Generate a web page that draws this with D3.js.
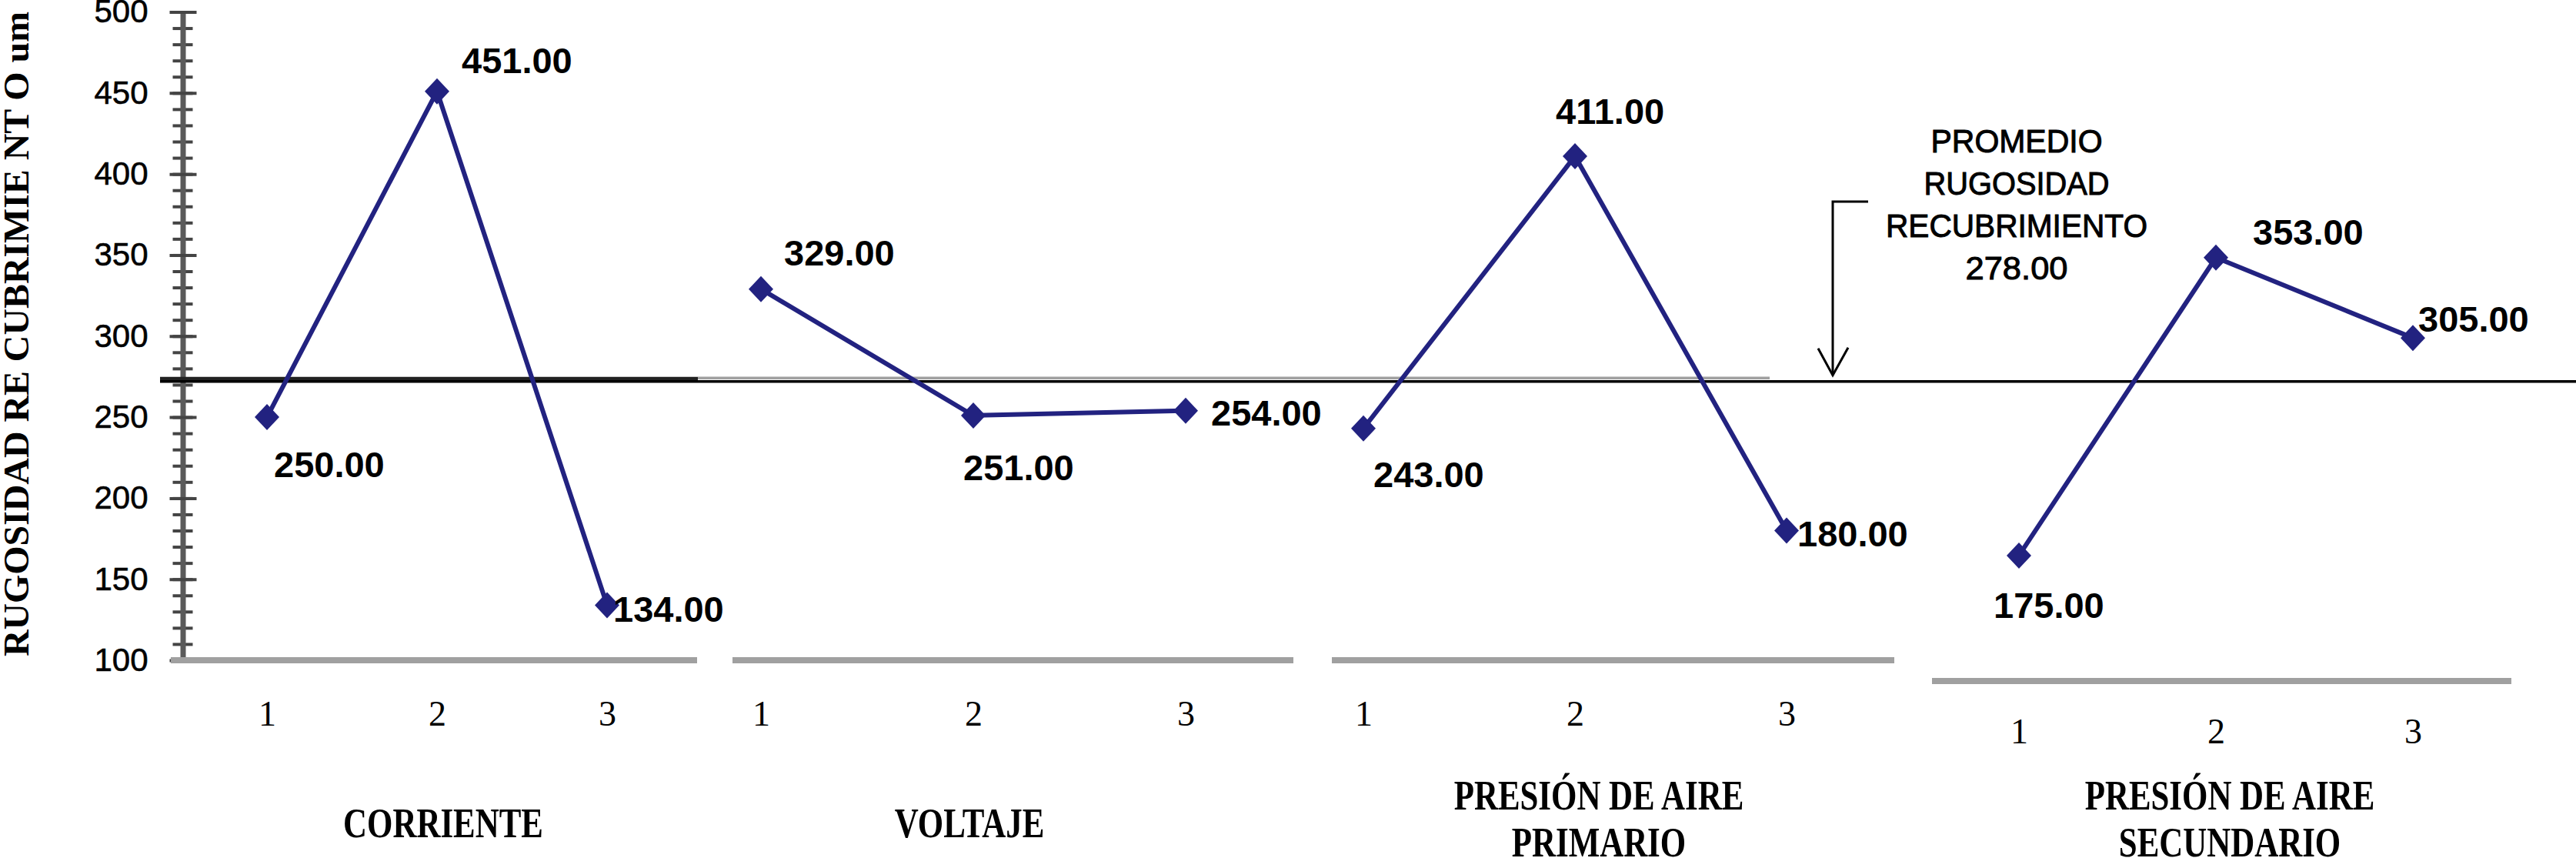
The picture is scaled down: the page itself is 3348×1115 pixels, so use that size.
<!DOCTYPE html>
<html><head><meta charset="utf-8">
<script src="https://cdn.jsdelivr.net/npm/d3@7"></script>
<style>html,body{margin:0;padding:0;background:#fff;} svg{display:block;}</style>
</head><body>
<svg id="chart" width="3348" height="1115"></svg>
<script>
// ---------------- DATA ----------------
const levels = [1, 2, 3];
const corriente = [250, 451, 134];
const voltaje = [329, 251, 254];
const presionPrimario = [243, 411, 180];
const presionSecundario = [175, 353, 305];
const groupLabels = [["CORRIENTE"], ["VOLTAJE"], ["PRESIÓN DE AIRE", "PRIMARIO"], ["PRESIÓN DE AIRE", "SECUNDARIO"]];
const yTicks = [100, 150, 200, 250, 300, 350, 400, 450, 500];
const yMinorTicks = d3.range(100, 501, 10);
const promedio = 278;          // value written in the annotation
const promedioLevel = 272;     // level at which the reference draws the line
const annotationLines = ["PROMEDIO", "RUGOSIDAD", "RECUBRIMIENTO"];
const yTitle = "RUGOSIDAD RE CUBRIMIE NT O um";

// ---------------- LAYOUT ----------------
const series = [corriente, voltaje, presionPrimario, presionSecundario];
const panels = [
  {xr: [347, 789],   axis: [222, 906],   yr: [858, 15.5], tickBase: 943, labelX: 576,  labelBase: [1088],
   offs: [[9, 78], [32, -24], [8, 22]]},
  {xr: [989, 1541],  axis: [952, 1681],  yr: [858, 15.5], tickBase: 943, labelX: 1260, labelBase: [1088],
   offs: [[30, -31], [-13, 84], [33, 19]]},
  {xr: [1772, 2322], axis: [1731, 2462], yr: [858, 15.5], tickBase: 943, labelX: 2078, labelBase: [1052, 1113],
   offs: [[13, 76], [-25, -42], [14, 20]]},
  {xr: [2624, 3136], axis: [2511, 3264], yr: [885, 15],   tickBase: 966, labelX: 2898, labelBase: [1052, 1113],
   offs: [[-33, 81], [48, -17], [7, -8]]}
];
const annotWidths = [223, 241, 340, 133];
const navy = "#222280";
const gray = "#a0a0a0";

const svg = d3.select("#chart");
const yMain = d3.scaleLinear().domain([100, 500]).range([858, 15.5]);

// ---------------- Y AXIS ----------------
const yAxisX = 237.5;
const gMinor = svg.append("g").attr("transform", `translate(${yAxisX},0)`)
  .call(d3.axisLeft(yMain).tickValues(yMinorTicks).tickSize(13).tickSizeOuter(0).tickFormat(""));
gMinor.select(".domain").remove();
gMinor.selectAll(".tick line").attr("x1", 13).attr("stroke", "#444").attr("stroke-width", 4);

const gY = svg.append("g").attr("transform", `translate(${yAxisX},0)`)
  .call(d3.axisLeft(yMain).tickValues(yTicks).tickSize(17).tickSizeOuter(0).tickPadding(28));
gY.select(".domain").attr("stroke", "#5a5a5a").attr("stroke-width", 7);
gY.selectAll(".tick line").attr("x1", 18).attr("stroke", "#444").attr("stroke-width", 4);
gY.selectAll(".tick text").attr("font-family", "'Liberation Sans', Arial, sans-serif")
  .attr("font-size", 42).attr("fill", "#000").attr("stroke", "#000").attr("stroke-width", 0.6);

// Y title
svg.append("text")
  .attr("transform", "translate(37,434) rotate(-90)")
  .attr("text-anchor", "middle")
  .attr("font-family", "'Liberation Serif', 'Times New Roman', serif")
  .attr("font-weight", "bold").attr("font-size", 47).attr("fill", "#000")
  .attr("textLength", 838).attr("lengthAdjust", "spacingAndGlyphs")
  .text(yTitle);

// ---------------- PANEL BASELINES ----------------
panels.forEach(p => {
  svg.append("line")
    .attr("x1", p.axis[0]).attr("x2", p.axis[1])
    .attr("y1", p.yr[0]).attr("y2", p.yr[0])
    .attr("stroke", gray).attr("stroke-width", 8);
});

// ---------------- AVERAGE LINE ----------------
const yAvg = yMain(promedioLevel);
svg.append("line").attr("x1", 907).attr("x2", 2300).attr("y1", yAvg - 4.5).attr("y2", yAvg - 4.5)
  .attr("stroke", gray).attr("stroke-width", 3.5);
svg.append("line").attr("x1", 208).attr("x2", 907).attr("y1", yAvg - 3).attr("y2", yAvg - 3)
  .attr("stroke", "#222").attr("stroke-width", 6);
svg.append("line").attr("x1", 208).attr("x2", 3348).attr("y1", yAvg).attr("y2", yAvg)
  .attr("stroke", "#000").attr("stroke-width", 3.5);

// Annotation arrow
const arrowX = 2382, arrowTop = 262, tipY = yAvg - 8;
svg.append("path")
  .attr("d", `M${arrowX + 46},${arrowTop} L${arrowX},${arrowTop} L${arrowX},${tipY}`)
  .attr("fill", "none").attr("stroke", "#000").attr("stroke-width", 3);
svg.append("path")
  .attr("d", `M${arrowX - 19},${tipY - 35} L${arrowX},${tipY} L${arrowX + 20},${tipY - 36}`)
  .attr("fill", "none").attr("stroke", "#000").attr("stroke-width", 3);

// Annotation text
annotationLines.concat([d3.format(".2f")(promedio)]).forEach((t, i) => {
  svg.append("text")
    .attr("x", 2621).attr("y", 198 + i * 55)
    .attr("text-anchor", "middle")
    .attr("font-family", "'Liberation Sans', Arial, sans-serif")
    .attr("font-size", 42).attr("fill", "#000")
    .attr("stroke", "#000").attr("stroke-width", 1)
    .attr("textLength", annotWidths[i]).attr("lengthAdjust", "spacingAndGlyphs")
    .text(t);
});

// ---------------- SERIES ----------------
const diamond = (x, y) => `M${x},${y - 17} L${x + 16},${y} L${x},${y + 17} L${x - 16},${y} Z`;

panels.forEach((p, i) => {
  const x = d3.scalePoint().domain(levels).range(p.xr);
  const y = d3.scaleLinear().domain([100, 500]).range(p.yr);
  const vals = series[i];
  const pts = levels.map((l, j) => ({l, v: vals[j], o: p.offs[j]}));

  svg.append("path")
    .datum(pts)
    .attr("d", d3.line().x(d => x(d.l)).y(d => y(d.v)))
    .attr("fill", "none").attr("stroke", navy).attr("stroke-width", 6)
    .attr("stroke-linejoin", "round");

  svg.selectAll(null).data(pts).enter().append("path")
    .attr("d", d => diamond(x(d.l), y(d.v)))
    .attr("fill", navy);

  svg.selectAll(null).data(pts).enter().append("text")
    .attr("x", d => x(d.l) + d.o[0])
    .attr("y", d => y(d.v) + d.o[1])
    .attr("font-family", "'Liberation Sans', Arial, sans-serif")
    .attr("font-weight", "bold").attr("font-size", 47).attr("fill", "#000")
    .text(d => d3.format(".2f")(d.v));

  // x tick labels
  const gx = svg.append("g").attr("transform", `translate(0,${p.tickBase})`)
    .call(d3.axisBottom(x).tickSize(0).tickPadding(0));
  gx.select(".domain").remove();
  gx.selectAll(".tick text")
    .attr("y", 0).attr("dy", 0)
    .attr("font-family", "'Liberation Serif', 'Times New Roman', serif")
    .attr("font-size", 46).attr("fill", "#000");

  // group label
  groupLabels[i].forEach((t, k) => {
    svg.append("text")
      .attr("transform", `translate(${p.labelX},${p.labelBase[k]}) scale(0.78,1)`)
      .attr("text-anchor", "middle")
      .attr("font-family", "'Liberation Serif', 'Times New Roman', serif")
      .attr("font-weight", "bold").attr("font-size", 55).attr("fill", "#000")
      .text(t);
  });
});
</script>
</body></html>
